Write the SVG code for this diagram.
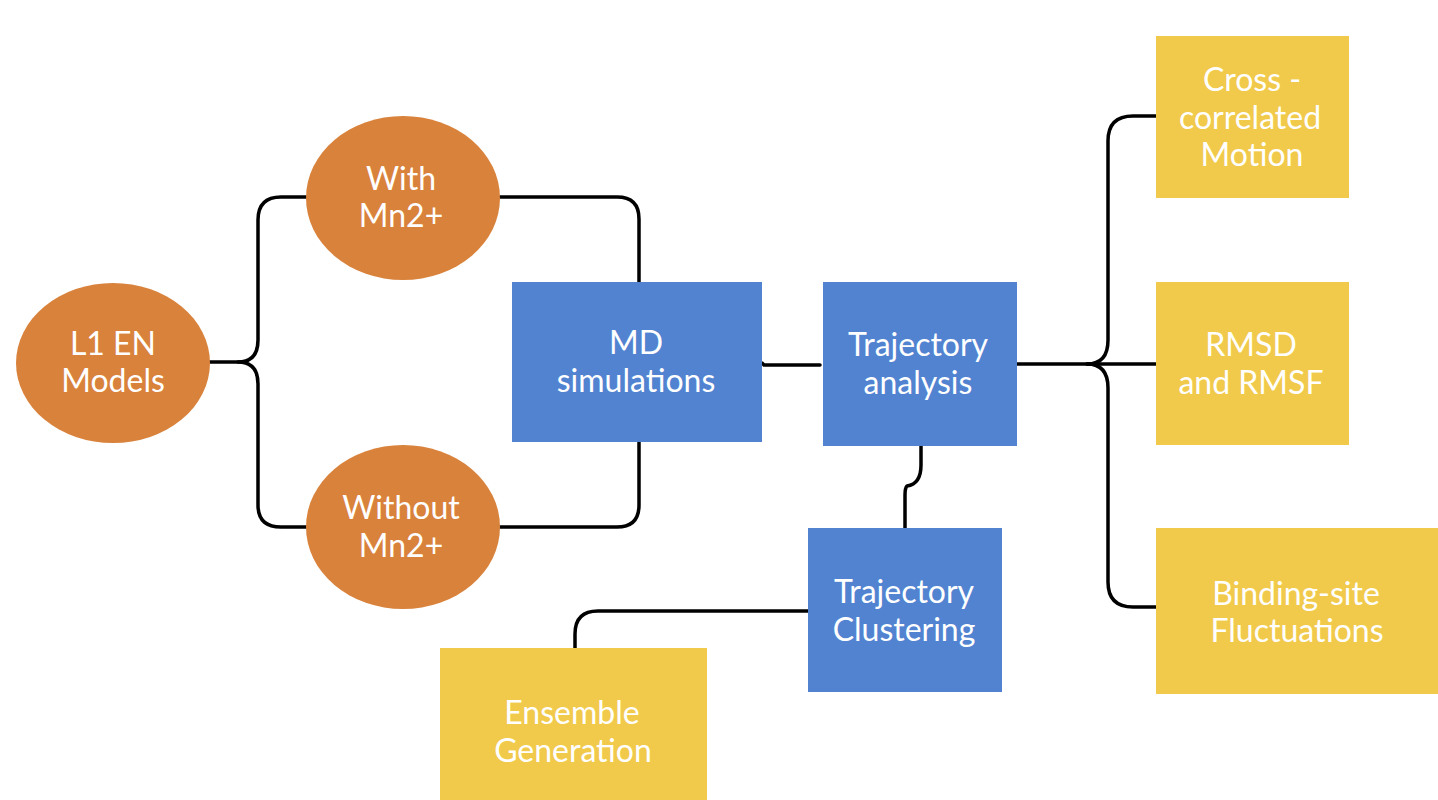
<svg xmlns="http://www.w3.org/2000/svg" width="1438" height="800" viewBox="0 0 1438 800">
<style>
.bg{fill:#ffffff}
.orange{fill:#D9823B}
.blue{fill:#5183D1}
.yellow{fill:#F1CA4B}
.lbl{font-family:Lato,"Open Sans","Liberation Sans",sans-serif;font-size:32px;fill:#ffffff;text-anchor:middle}
.conn{fill:none;stroke:#000000;stroke-width:3.5;stroke-linecap:round;stroke-linejoin:round}
</style>
<rect class="bg" x="0" y="0" width="1438" height="800"/>
<g id="connectors">
<path class="conn" d="M210,362 H238 Q258,362 258,340 V220 Q258,197 281,197 H306"/>
<path class="conn" d="M238,362 Q258,362 258,384 V505 Q258,527 281,527 H306"/>
<path class="conn" d="M500,197 H617 Q639,197 639,219 V282"/>
<path class="conn" d="M639,442 V505 Q639,527 617,527 H500"/>
<path class="conn" d="M762,363 L764,365 H820"/>
<path class="conn" d="M921,446 V465 Q921,484 907,486 Q905,488 905,495 V528"/>
<path class="conn" d="M1017,364 H1087 Q1108,364 1108,340 V141 Q1108,116 1133,116 H1156"/>
<path class="conn" d="M1087,364 Q1108,364 1108,388 V582 Q1108,607 1133,607 H1156"/>
<path class="conn" d="M1087,364 H1156"/>
<path class="conn" d="M808,611 H598 Q575,611 575,634 V650"/>
</g>
<g id="node-l1en">
<ellipse class="orange" cx="113" cy="363" rx="97" ry="80"/>
<text class="lbl" x="113" y="355">L1 EN</text>
<text class="lbl" x="113" y="392">Models</text>
</g>
<g id="node-with">
<ellipse class="orange" cx="403" cy="198" rx="97" ry="82"/>
<text class="lbl" x="401" y="190">With</text>
<text class="lbl" x="401" y="227">Mn2+</text>
</g>
<g id="node-without">
<ellipse class="orange" cx="403" cy="527" rx="97" ry="82"/>
<text class="lbl" x="401" y="519">Without</text>
<text class="lbl" x="401" y="557">Mn2+</text>
</g>
<g id="node-md">
<rect class="blue" x="512" y="282" width="250" height="160"/>
<text class="lbl" x="636" y="354">MD</text>
<text class="lbl" x="636" y="392">simulations</text>
</g>
<g id="node-traj-analysis">
<rect class="blue" x="823" y="282" width="194" height="164"/>
<text class="lbl" x="918" y="356">Trajectory</text>
<text class="lbl" x="918" y="394">analysis</text>
</g>
<g id="node-traj-clustering">
<rect class="blue" x="808" y="528" width="194" height="164"/>
<text class="lbl" x="904" y="603">Trajectory</text>
<text class="lbl" x="904" y="641">Clustering</text>
</g>
<g id="node-ensemble">
<rect class="yellow" x="440" y="648" width="267" height="152"/>
<text class="lbl" x="572" y="724">Ensemble</text>
<text class="lbl" x="573" y="762">Generation</text>
</g>
<g id="node-cross">
<rect class="yellow" x="1156" y="36" width="193" height="162"/>
<text class="lbl" x="1252" y="91">Cross -</text>
<text class="lbl" x="1250" y="129">correlated</text>
<text class="lbl" x="1252" y="166">Motion</text>
</g>
<g id="node-rmsd">
<rect class="yellow" x="1156" y="282" width="193" height="163"/>
<text class="lbl" x="1251" y="356">RMSD</text>
<text class="lbl" x="1251" y="394">and RMSF</text>
</g>
<g id="node-binding">
<rect class="yellow" x="1156" y="528" width="282" height="166"/>
<text class="lbl" x="1296" y="605">Binding-site</text>
<text class="lbl" x="1297" y="642">Fluctuations</text>
</g>
</svg>
